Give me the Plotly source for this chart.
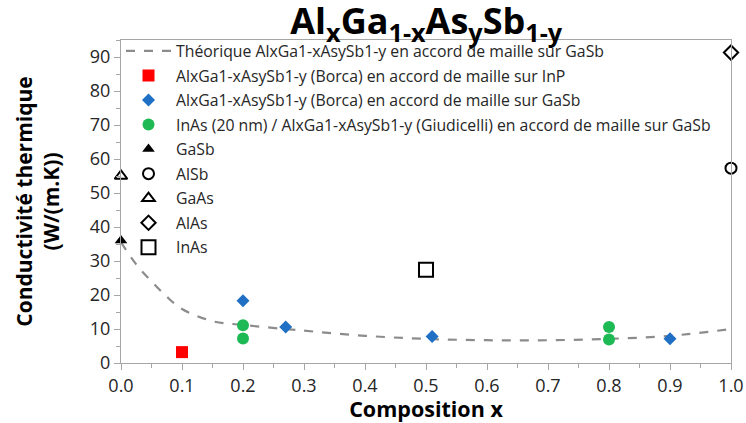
import plotly.graph_objects as go

# Data
theo_x = [0.0, 0.025, 0.05, 0.075, 0.1, 0.15, 0.2, 0.3, 0.4, 0.5, 0.6, 0.7, 0.8, 0.9, 1.0]
theo_y = [35.5, 29.0, 24.0, 19.5, 15.9, 12.3, 11.2, 9.5, 8.0, 7.1, 6.7, 6.7, 7.1, 8.0, 10.0]

inp_x = [0.1]
inp_y = [3.2]

borca_x = [0.2, 0.27, 0.51, 0.9]
borca_y = [18.3, 10.6, 7.8, 7.1]

giud_x = [0.2, 0.2, 0.8, 0.8]
giud_y = [11.1, 7.2, 10.6, 6.9]

gasb = (0.0, 36.0)
alsb = (1.0, 57.3)
gaas = (0.0, 55.0)
alas = (1.0, 91.3)
inas = (0.5, 27.4)

names = [
    "Théorique AlxGa1-xAsySb1-y en accord de maille sur GaSb",
    "AlxGa1-xAsySb1-y (Borca) en accord de maille sur InP",
    "AlxGa1-xAsySb1-y (Borca) en accord de maille sur GaSb",
    "InAs (20 nm) / AlxGa1-xAsySb1-y (Giudicelli) en accord de maille sur GaSb",
    "GaSb", "AlSb", "GaAs", "AlAs", "InAs",
]

FONT = "Open Sans"

fig = go.Figure()
fig.add_trace(go.Scatter(x=theo_x, y=theo_y, mode="lines", name=names[0], legendgroup="g0",
                         line=dict(color="#8c8c8c", width=2.2, dash="dash", shape="spline")))
fig.add_trace(go.Scatter(x=inp_x, y=inp_y, mode="markers", name=names[1], legendgroup="g1",
                         marker=dict(symbol="square", color="#ff0000", size=12)))
fig.add_trace(go.Scatter(x=borca_x, y=borca_y, mode="markers", name=names[2], legendgroup="g2",
                         marker=dict(symbol="diamond", color="#1f6fc5", size=10)))
fig.add_trace(go.Scatter(x=giud_x, y=giud_y, mode="markers", name=names[3], legendgroup="g3",
                         marker=dict(symbol="circle", color="#1db954", size=12)))
fig.add_trace(go.Scatter(x=[gasb[0]], y=[gasb[1]], mode="markers", name=names[4], legendgroup="g4",
                         marker=dict(symbol="triangle-up", color="black", size=11),
                         cliponaxis=False))
fig.add_trace(go.Scatter(x=[alsb[0]], y=[alsb[1]], mode="markers", name=names[5], legendgroup="g5",
                         marker=dict(symbol="circle-open", color="black", size=11, line=dict(width=2)),
                         cliponaxis=False))
fig.add_trace(go.Scatter(x=[gaas[0]], y=[gaas[1]], mode="markers", name=names[6], legendgroup="g6",
                         marker=dict(symbol="triangle-up-open", color="black", size=11, line=dict(width=2)),
                         cliponaxis=False))
fig.add_trace(go.Scatter(x=[alas[0]], y=[alas[1]], mode="markers", name=names[7], legendgroup="g7",
                         marker=dict(symbol="diamond-open", color="black", size=11, line=dict(width=2)),
                         cliponaxis=False))
fig.add_trace(go.Scatter(x=[inas[0]], y=[inas[1]], mode="markers", name=names[8], legendgroup="g8",
                         marker=dict(symbol="square-open", color="black", size=14, line=dict(width=2)),
                         cliponaxis=False))

fig.update_layout(
    width=746, height=423,
    margin=dict(l=121, r=15, t=40, b=60),
    paper_bgcolor="white", plot_bgcolor="white",
    font=dict(family=FONT, color="#262626", size=13),
    title=dict(text="<b>Al<sub>x</sub>Ga<sub>1-x</sub>As<sub>y</sub>Sb<sub>1-y</sub></b>",
               x=0.5713, xanchor="center", y=0.949, yanchor="middle",
               font=dict(size=36, color="black", family=FONT)),
    showlegend=True,
    legend=dict(x=0.0, y=1.018, xanchor="left", yanchor="top", bgcolor="rgba(0,0,0,0)",
                font=dict(size=15.8, color="#262626", family=FONT), tracegroupgap=1,
                itemwidth=45, maxheight=380),
    xaxis=dict(range=[0, 1.0], dtick=0.1, tickformat=".1f", showgrid=False, zeroline=False,
               automargin=False,
               showline=True, linecolor="#a6a6a6", linewidth=1, mirror=True,
               ticks="outside", ticklen=6, tickcolor="#a6a6a6",
               minor=dict(dtick=0.05, ticks="outside", ticklen=4, tickcolor="#a6a6a6"),
               tickfont=dict(size=18, color="#262626"),
               title=dict(text="<b>Composition x</b>", standoff=0,
                          font=dict(size=21.5, color="black"))),
    yaxis=dict(range=[0, 95], dtick=10, showgrid=False, zeroline=False,
               automargin=False,
               showline=True, linecolor="#a6a6a6", linewidth=1, mirror=True,
               ticks="outside", ticklen=6, tickcolor="#a6a6a6",
               minor=dict(dtick=5, ticks="outside", ticklen=4, tickcolor="#a6a6a6"),
               tickfont=dict(size=18, color="#262626"),
               title=dict(text="<b>Conductivité thermique<br>(W/(m.K))</b>", standoff=24,
                          font=dict(size=21, color="black"))),
)

fig.write_html("out.html")
